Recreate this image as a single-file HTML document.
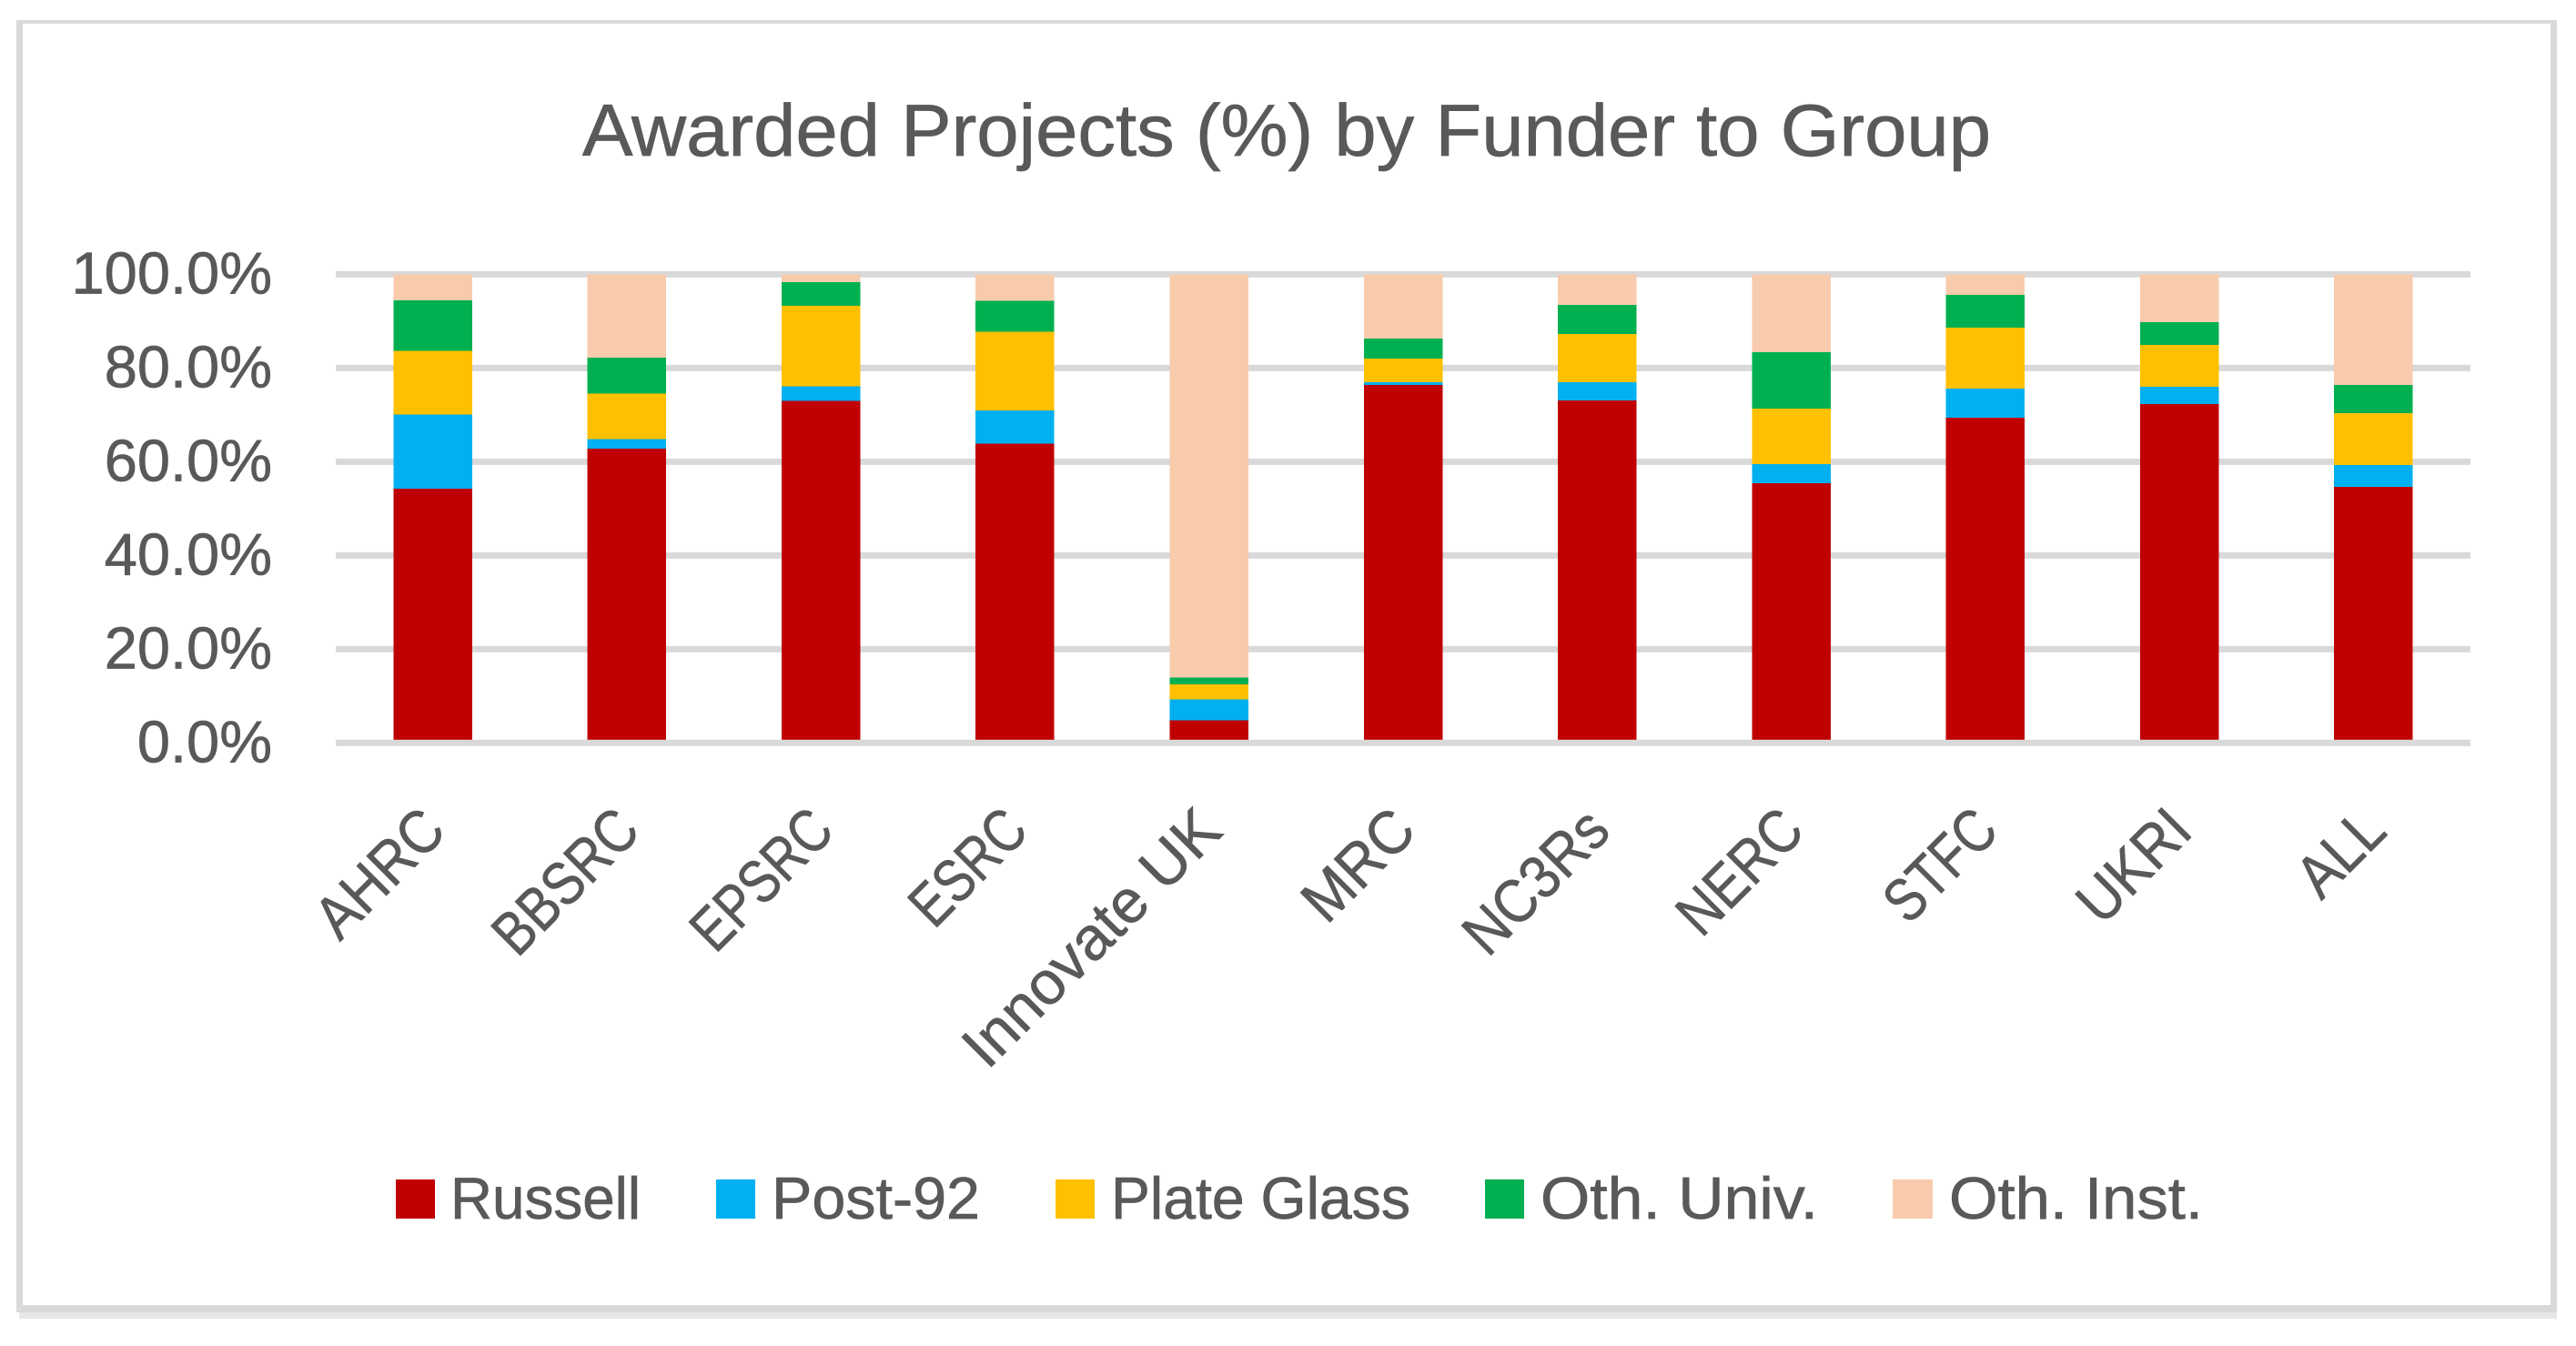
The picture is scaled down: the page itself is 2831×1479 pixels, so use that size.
<!DOCTYPE html>
<html lang="en">
<head>
<meta charset="utf-8">
<title>Awarded Projects (%) by Funder to Group</title>
<style>
  html, body { margin: 0; padding: 0; background: #ffffff; }
  body { width: 2831px; height: 1479px; overflow: hidden; }
  svg { display: block; }
  text { font-family: "Liberation Sans", Arial, sans-serif; fill: #595959; stroke: #595959; stroke-width: 0.7px; }
</style>
</head>
<body>
<svg id="chart" xmlns="http://www.w3.org/2000/svg" width="2831" height="1479" viewBox="0 0 2831 1479">
  <rect x="0" y="0" width="2831" height="1479" fill="#ffffff"/>
  <g>
    <rect x="21" y="1442" width="2789" height="7" fill="#e6e6e6"/>
    <rect x="18" y="22" width="2792" height="4" fill="#d9d9d9"/>
    <rect x="18" y="22" width="7" height="1420" fill="#d9d9d9"/>
    <rect x="2803" y="22" width="7" height="1420" fill="#d9d9d9"/>
    <rect x="18" y="1434" width="2792" height="8" fill="#d9d9d9"/>
  </g>
  <text x="640" y="171" font-size="81" textLength="1548" lengthAdjust="spacingAndGlyphs">Awarded Projects (%) by Funder to Group</text>
  <g id="gridlines"></g>
  <g id="y-axis"></g>
  <g id="bars"></g>
  <g id="x-axis"></g>
  <g>
    <g>
      <rect x="435" y="1296" width="43" height="43" fill="#c00000"/>
      <text x="495" y="1339" font-size="65" textLength="209" lengthAdjust="spacingAndGlyphs">Russell</text>
    </g>
    <g>
      <rect x="787" y="1296" width="43" height="43" fill="#00b0f0"/>
      <text x="848" y="1339" font-size="65" textLength="229" lengthAdjust="spacingAndGlyphs">Post-92</text>
    </g>
    <g>
      <rect x="1160" y="1296" width="43" height="43" fill="#ffc000"/>
      <text x="1221" y="1339" font-size="65" textLength="329" lengthAdjust="spacingAndGlyphs">Plate Glass</text>
    </g>
    <g>
      <rect x="1632" y="1296" width="43" height="43" fill="#00b050"/>
      <text x="1693" y="1339" font-size="65" textLength="305" lengthAdjust="spacingAndGlyphs">Oth. Univ.</text>
    </g>
    <g>
      <rect x="2080" y="1296" width="44" height="43" fill="#f8cbad"/>
      <text x="2142" y="1339" font-size="65" textLength="279" lengthAdjust="spacingAndGlyphs">Oth. Inst.</text>
    </g>
  </g>
</svg>
<script>
const categories = ["AHRC", "BBSRC", "EPSRC", "ESRC", "Innovate UK", "MRC", "NC3Rs", "NERC", "STFC", "UKRI", "ALL"];
const russell    = [54.2, 62.8, 73.0, 63.9, 4.8, 76.4, 73.1, 55.4, 69.4, 72.3, 54.6];
const post92     = [15.9, 2.0, 3.1, 7.0, 4.5, 0.6, 3.9, 4.1, 6.2, 3.7, 4.7];
const plateGlass = [13.6, 9.7, 17.2, 16.8, 3.2, 5.0, 10.3, 11.8, 13.0, 8.9, 11.1];
const othUniv    = [10.7, 7.7, 5.0, 6.6, 1.4, 4.3, 6.2, 12.1, 7.0, 4.9, 6.0];
const othInst    = [5.6, 17.8, 1.7, 5.7, 86.1, 13.7, 6.5, 16.6, 4.4, 10.2, 23.6];
const tickValues = [0, 20, 40, 60, 80, 100];
const tickLabels = ["0.0%", "20.0%", "40.0%", "60.0%", "80.0%", "100.0%"];

const seriesValues = [russell, post92, plateGlass, othUniv, othInst];
const seriesNames = ["russell", "post-92", "plate-glass", "oth-univ", "oth-inst"];
const seriesColors = ["#c00000", "#00b0f0", "#ffc000", "#00b050", "#f8cbad"];

const NS = "http://www.w3.org/2000/svg";
const plotLeft = 369;
const plotRight = 2715;
const plotTop = 301.4;
const plotBottom = 816.3;
const barWidth = 86.5;

function xCenter(i) {
  return plotLeft + (i + 0.5) * (plotRight - plotLeft) / categories.length;
}
function yScale(v) {
  return plotBottom - (v / 100) * (plotBottom - plotTop);
}

// Approximate advance widths of the reference's typeface, used to fit rotated labels.
const glyphEm = { A: .579, B: .544, C: .533, E: .488, F: .459, H: .623, I: .252, K: .52, L: .42, M: .855, N: .646, P: .517, R: .543, S: .459, T: .487, U: .642, a: .479, e: .498, n: .525, o: .527, s: .391, t: .335, v: .452, "3": .507, " ": .226 };
function fitWidth(label) {
  let total = 0;
  for (const ch of label) total += glyphEm[ch] || 0.5;
  return total * 74;
}

const gridGroup = document.getElementById("gridlines");
const yAxisGroup = document.getElementById("y-axis");
const barsGroup = document.getElementById("bars");
const xAxisGroup = document.getElementById("x-axis");

tickValues.forEach(function (v, i) {
  if (v !== 0) {
    const line = document.createElementNS(NS, "rect");
    
    
    line.setAttribute("x", plotLeft);
    line.setAttribute("y", yScale(v) - 3.5);
    line.setAttribute("width", plotRight - plotLeft);
    line.setAttribute("height", 7);
    line.setAttribute("fill", "#d9d9d9");
    gridGroup.appendChild(line);
  }
  const label = document.createElementNS(NS, "text");
  
  
  label.setAttribute("x", 299);
  label.setAttribute("y", yScale(v) + 21);
  label.setAttribute("font-size", 65);
  label.setAttribute("text-anchor", "end");
  label.textContent = tickLabels[i];
  yAxisGroup.appendChild(label);
});

categories.forEach(function (cat, i) {
  let cumulative = 0;
  seriesValues.forEach(function (values, s) {
    const start = cumulative;
    cumulative += values[i];
    const bar = document.createElementNS(NS, "rect");
    
    
    bar.setAttribute("x", xCenter(i) - barWidth / 2);
    bar.setAttribute("y", yScale(cumulative));
    bar.setAttribute("width", barWidth);
    bar.setAttribute("height", yScale(start) - yScale(cumulative));
    bar.setAttribute("fill", seriesColors[s]);
    bar.setAttribute("shape-rendering", "crispEdges");
    barsGroup.appendChild(bar);
  });

  const ex = xCenter(i) + 17;
  const ey = 916;
  const label = document.createElementNS(NS, "text");
  
  
  label.setAttribute("font-size", 67);
  label.setAttribute("x", -fitWidth(cat));
  label.setAttribute("y", 0);
  label.setAttribute("textLength", fitWidth(cat));
  label.setAttribute("lengthAdjust", "spacingAndGlyphs");
  label.setAttribute("transform", "translate(" + ex + " " + ey + ") rotate(-45)");
  label.textContent = cat;
  xAxisGroup.appendChild(label);
});

const axisLine = document.createElementNS(NS, "rect");


axisLine.setAttribute("x", plotLeft);
axisLine.setAttribute("y", yScale(0) - 3.5);
axisLine.setAttribute("width", plotRight - plotLeft);
axisLine.setAttribute("height", 7);
axisLine.setAttribute("fill", "#d9d9d9");
xAxisGroup.appendChild(axisLine);
</script>
</body>
</html>
